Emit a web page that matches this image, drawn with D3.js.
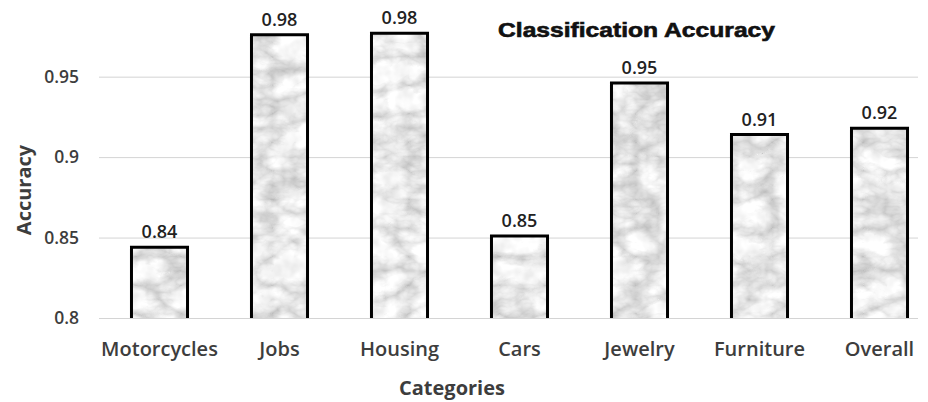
<!DOCTYPE html>
<html>
<head>
<meta charset="utf-8">
<script src="https://cdn.jsdelivr.net/npm/d3@7"></script>
<style>
  body { margin: 0; background: #fff; }
  text { font-family: "Open Sans", "DejaVu Sans", sans-serif; }
</style>
</head>
<body>
<script>
// Classification accuracy per category
const categories = ["Motorcycles", "Jobs", "Housing", "Cars", "Jewelry", "Furniture", "Overall"];
const accuracy = [0.844, 0.976, 0.977, 0.851, 0.946, 0.914, 0.918];
const yTicks = [0.8, 0.85, 0.9, 0.95];
const chartTitle = "Classification Accuracy";
const xTitle = "Categories";
const yTitle = "Accuracy";

const W = 928, H = 402;
const plotLeft = 99, gridRight = 918;

const svg = d3.select("body").append("svg")
  .attr("width", W).attr("height", H);

// Marble-like fill for the bars: soft veins multiplied with cloudy shading
const defs = svg.append("defs");
const marble = defs.append("filter").attr("id", "marble")
  .attr("x", "0%").attr("y", "0%").attr("width", "100%").attr("height", "100%");
marble.append("feTurbulence")
  .attr("type", "turbulence")
  .attr("baseFrequency", "0.022 0.035")
  .attr("numOctaves", 4)
  .attr("seed", 11)
  .attr("result", "veinNoise");
marble.append("feColorMatrix")
  .attr("in", "veinNoise")
  .attr("type", "matrix")
  .attr("values", "0.8 0 0 0 0.6  0.8 0 0 0 0.6  0.8 0 0 0 0.6  0 0 0 0 1")
  .attr("result", "veins");
marble.append("feTurbulence")
  .attr("type", "fractalNoise")
  .attr("baseFrequency", "0.05")
  .attr("numOctaves", 3)
  .attr("seed", 4)
  .attr("result", "cloudNoise");
marble.append("feColorMatrix")
  .attr("in", "cloudNoise")
  .attr("type", "matrix")
  .attr("values", "0.5 0 0 0 0.7  0.5 0 0 0 0.7  0.5 0 0 0 0.7  0 0 0 0 1")
  .attr("result", "clouds");
marble.append("feBlend")
  .attr("in", "veins").attr("in2", "clouds").attr("mode", "multiply")
  .attr("result", "tone");
marble.append("feGaussianBlur")
  .attr("in", "tone").attr("stdDeviation", 0.6).attr("result", "soft");
marble.append("feComposite")
  .attr("in", "soft").attr("in2", "SourceGraphic").attr("operator", "in");

const x = d3.scaleBand()
  .domain(categories)
  .range([99.5, 939.5])
  .paddingInner(0.533)
  .paddingOuter(0.2665);

const y = d3.scaleLinear()
  .domain([0.8, 0.98])
  .range([318, 28.4]);

// Gridlines and y tick labels
const yAxis = svg.append("g")
  .attr("transform", `translate(${plotLeft},0)`)
  .call(d3.axisLeft(y)
    .tickValues(yTicks)
    .tickSize(-(gridRight - plotLeft))
    .tickPadding(20)
    .tickFormat(d3.format("")));
yAxis.select(".domain").remove();
yAxis.selectAll(".tick line").attr("stroke", "#d4d4d4").attr("stroke-width", 1);
yAxis.selectAll(".tick text")
  .attr("fill", "#3d3d3d")
  .style("font-size", "17.5px")
  .style("font-weight", 600)
  .style("font-family", "'Open Sans', sans-serif");

// Bars
const data = categories.map((c, i) => ({ category: c, value: accuracy[i] }));
const bars = svg.append("g").selectAll("g").data(data).join("g");

bars.append("rect")
  .attr("x", d => x(d.category))
  .attr("y", d => y(d.value))
  .attr("width", x.bandwidth())
  .attr("height", d => y(0.8) - y(d.value))
  .attr("fill", "#e0e0e0")
  .attr("filter", "url(#marble)");

bars.append("path")
  .attr("d", d => {
    const x0 = x(d.category), x1 = x0 + x.bandwidth();
    return `M${x0},${y(0.8)}V${y(d.value)}H${x1}V${y(0.8)}`;
  })
  .attr("fill", "none")
  .attr("stroke", "#000")
  .attr("stroke-width", 3);

// Value labels
bars.append("text")
  .attr("x", d => x(d.category) + x.bandwidth() / 2)
  .attr("y", d => y(d.value) - 9)
  .attr("text-anchor", "middle")
  .attr("fill", "#222")
  .style("font-size", "18px")
  .style("font-weight", 600)
  .text(d => d3.format(".2f")(d.value));

// Category labels
svg.append("g").selectAll("text").data(categories).join("text")
  .attr("x", d => x(d) + x.bandwidth() / 2)
  .attr("y", 356)
  .attr("text-anchor", "middle")
  .attr("fill", "#3d3d3d")
  .style("font-size", "20px")
  .style("font-weight", 600)
  .text(d => d);

// Axis titles
svg.append("text")
  .attr("x", 452)
  .attr("y", 395)
  .attr("text-anchor", "middle")
  .attr("fill", "#3d3d3d")
  .style("font-size", "20px")
  .style("font-weight", 700)
  .text(xTitle);

svg.append("text")
  .attr("transform", "translate(31,190) rotate(-90)")
  .attr("text-anchor", "middle")
  .attr("fill", "#3d3d3d")
  .style("font-size", "20px")
  .style("font-weight", 700)
  .text(yTitle);

// Chart title
svg.append("text")
  .attr("x", 498)
  .attr("y", 37)
  .attr("fill", "#111")
  .attr("textLength", 277)
  .attr("lengthAdjust", "spacingAndGlyphs")
  .style("font-family", "'Liberation Sans', Arial, sans-serif")
  .style("font-size", "19.5px")
  .style("font-weight", 700)
  .attr("stroke", "#111")
  .attr("stroke-width", 0.6)
  .text(chartTitle);
</script>
</body>
</html>
